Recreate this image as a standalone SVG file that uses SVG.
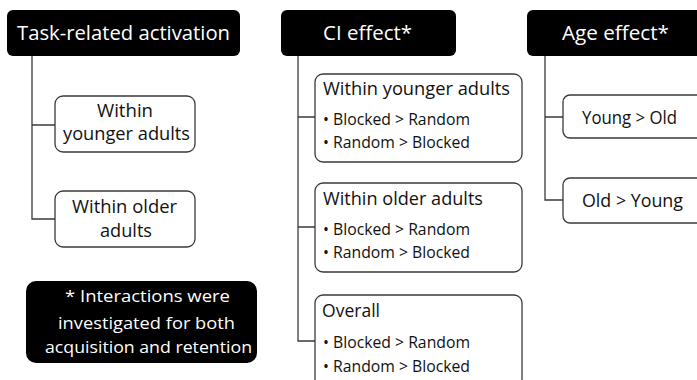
<svg xmlns="http://www.w3.org/2000/svg" width="697" height="380" viewBox="0 0 697 380">
<style>
  .hdr { fill: #000; }
  .hdrt { fill: #fff; font-family: "Open Sans", "Noto Sans", sans-serif; font-size: 20px; }
  .box { fill: #fff; stroke: #3a3a3a; stroke-width: 1.3; }
  .t { fill: #111; font-family: "Open Sans", "Noto Sans", sans-serif; font-size: 18px; }
  .b { fill: #111; font-family: "Open Sans", "Noto Sans", sans-serif; font-size: 15.5px; }
  .nt { fill: #fff; font-family: "Open Sans", "Noto Sans", sans-serif; font-size: 17px; }
  .ln { fill: none; stroke: #3a3a3a; stroke-width: 1.3; }
</style>
<rect width="697" height="380" fill="#fff"/>
<g id="connectors">
  <path class="ln" d="M32,56 V219 H55 M32,125 H55"/>
  <path class="ln" d="M298,56 V341 H315 M298,117 H315 M298,227 H315"/>
  <path class="ln" d="M545,56 V200 H563 M545,117 H563"/>
</g>
<g id="hdr-task">
  <rect class="hdr" x="7" y="10" width="233" height="46" rx="6"/>
  <text class="hdrt" x="123.5" y="40" text-anchor="middle" textLength="213" lengthAdjust="spacingAndGlyphs">Task-related activation</text>
</g>
<g id="hdr-ci">
  <rect class="hdr" x="281" y="10" width="175" height="46" rx="6"/>
  <text class="hdrt" x="367.5" y="40" text-anchor="middle" textLength="89" lengthAdjust="spacingAndGlyphs">CI effect*</text>
</g>
<g id="hdr-age">
  <rect class="hdr" x="527" y="10" width="180" height="46" rx="6"/>
  <text class="hdrt" x="615.5" y="40" text-anchor="middle" textLength="107" lengthAdjust="spacingAndGlyphs">Age effect*</text>
</g>
<g id="task-young">
  <rect class="box" x="55" y="96" width="140" height="56" rx="8"/>
  <text class="t" x="125" y="117" text-anchor="middle" textLength="56" lengthAdjust="spacingAndGlyphs">Within</text>
  <text class="t" x="126.5" y="140" text-anchor="middle" textLength="127" lengthAdjust="spacingAndGlyphs">younger adults</text>
</g>
<g id="task-old">
  <rect class="box" x="55" y="191" width="140" height="56" rx="8"/>
  <text class="t" x="124.5" y="213" text-anchor="middle" textLength="105" lengthAdjust="spacingAndGlyphs">Within older</text>
  <text class="t" x="126" y="237" text-anchor="middle" textLength="52" lengthAdjust="spacingAndGlyphs">adults</text>
</g>
<g id="ci-young">
  <rect class="box" x="315" y="74" width="207" height="88" rx="8"/>
  <text class="t" x="323" y="95" textLength="187" lengthAdjust="spacingAndGlyphs">Within younger adults</text>
  <text class="b" x="323" y="125" textLength="147" lengthAdjust="spacingAndGlyphs">• Blocked &gt; Random</text>
  <text class="b" x="323" y="148" textLength="147" lengthAdjust="spacingAndGlyphs">• Random &gt; Blocked</text>
</g>
<g id="ci-old">
  <rect class="box" x="315" y="183" width="207" height="89" rx="8"/>
  <text class="t" x="323" y="205" textLength="160" lengthAdjust="spacingAndGlyphs">Within older adults</text>
  <text class="b" x="323" y="235" textLength="147" lengthAdjust="spacingAndGlyphs">• Blocked &gt; Random</text>
  <text class="b" x="323" y="258" textLength="147" lengthAdjust="spacingAndGlyphs">• Random &gt; Blocked</text>
</g>
<g id="ci-overall">
  <rect class="box" x="315" y="295" width="207" height="92" rx="8"/>
  <text class="t" x="322" y="317" textLength="58" lengthAdjust="spacingAndGlyphs">Overall</text>
  <text class="b" x="323" y="348" textLength="147" lengthAdjust="spacingAndGlyphs">• Blocked &gt; Random</text>
  <text class="b" x="323" y="372" textLength="147" lengthAdjust="spacingAndGlyphs">• Random &gt; Blocked</text>
</g>
<g id="age-young">
  <rect class="box" x="563" y="95" width="145" height="43" rx="7"/>
  <text class="t" x="582" y="124" textLength="95" lengthAdjust="spacingAndGlyphs">Young &gt; Old</text>
</g>
<g id="age-old">
  <rect class="box" x="563" y="178" width="145" height="45" rx="7"/>
  <text class="t" x="582" y="207" textLength="101" lengthAdjust="spacingAndGlyphs">Old &gt; Young</text>
</g>
<g id="note">
  <rect class="hdr" x="26" y="281" width="231" height="82" rx="10"/>
  <text class="nt" x="147.5" y="302" text-anchor="middle" textLength="165" lengthAdjust="spacingAndGlyphs">* Interactions were</text>
  <text class="nt" x="146.5" y="329" text-anchor="middle" textLength="177" lengthAdjust="spacingAndGlyphs">investigated for both</text>
  <text class="nt" x="148.5" y="353" text-anchor="middle" textLength="207" lengthAdjust="spacingAndGlyphs">acquisition and retention</text>
</g>
</svg>
